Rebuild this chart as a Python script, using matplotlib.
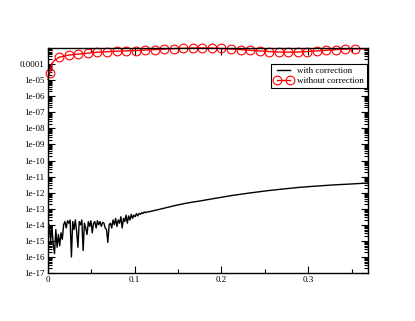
import matplotlib
matplotlib.use("Agg")
import matplotlib.pyplot as plt
import numpy as np
from matplotlib.ticker import FixedLocator, LogLocator, MultipleLocator, NullFormatter

plt.rcParams['font.family'] = ['Liberation Serif', 'DejaVu Serif']

# "with correction" : x and log10(y)
corr_x = [0.0000, 0.0015, 0.0030, 0.0045, 0.0060, 0.0075, 0.0090, 0.0105, 0.0120, 0.0135,
          0.0150, 0.0165, 0.0180, 0.0195, 0.0210, 0.0225, 0.0240, 0.0255, 0.0270, 0.0285,
          0.0300, 0.0315, 0.0330, 0.0345, 0.0360, 0.0375, 0.0390, 0.0405, 0.0420, 0.0435,
          0.0450, 0.0465, 0.0480, 0.0495, 0.0510, 0.0525, 0.0540, 0.0555, 0.0570, 0.0585,
          0.0600, 0.0615, 0.0630, 0.0645, 0.0660, 0.0675, 0.0690, 0.0705, 0.0720, 0.0735,
          0.0750, 0.0765, 0.0780, 0.0795, 0.0810, 0.0825, 0.0840, 0.0855, 0.0870, 0.0885,
          0.0900, 0.0915, 0.0930, 0.0945, 0.0960, 0.0975, 0.0990, 0.1005, 0.1020, 0.1035,
          0.1050, 0.1065, 0.1080, 0.1095, 0.1110, 0.1125, 0.1140, 0.1155,
          0.118, 0.130, 0.145, 0.160, 0.175, 0.190, 0.213, 0.230, 0.253, 0.270,
          0.290, 0.310, 0.329, 0.350, 0.369]
corr_log = [-13.9, -14.0, -15.0, -14.1, -15.2, -15.8, -14.3, -15.4, -14.6, -15.3,
            -14.5, -14.9, -14.0, -13.8, -14.2, -13.75, -13.9, -13.7, -16.0, -13.8,
            -14.3, -13.7, -14.4, -15.4, -13.8, -14.0, -13.7, -15.6, -13.9, -14.2,
            -14.6, -13.8, -14.1, -13.75, -14.5, -13.9, -13.8, -14.2, -13.75, -14.0,
            -13.8, -14.1, -13.85, -13.9, -14.2, -14.3, -15.1, -14.0, -13.9, -14.2,
            -13.7, -14.0, -13.6, -14.1, -13.7, -13.9, -13.5, -14.2, -13.6, -13.8,
            -13.4, -13.9, -13.45, -13.7, -13.35, -13.6, -13.4, -13.5, -13.3, -13.45,
            -13.3, -13.35, -13.25, -13.3, -13.2, -13.25, -13.2, -13.2,
            -13.17, -13.02, -12.82, -12.65, -12.52, -12.38, -12.17, -12.04, -11.88, -11.78,
            -11.67, -11.59, -11.52, -11.46, -11.40]

# "without correction"
nocorr_x = [0.0, 0.002, 0.0045, 0.008, 0.013, 0.024, 0.035, 0.046, 0.057, 0.068, 0.079,
            0.090, 0.101, 0.112, 0.123, 0.134, 0.145, 0.156, 0.167, 0.178, 0.189,
            0.200, 0.211, 0.222, 0.233, 0.244, 0.255, 0.266, 0.277, 0.288, 0.299,
            0.310, 0.321, 0.332, 0.343, 0.354, 0.369]
nocorr_log = [-4.95, -4.56, -3.95, -3.75, -3.57, -3.44, -3.38, -3.32, -3.26, -3.23, -3.20,
              -3.18, -3.16, -3.13, -3.10, -3.07, -3.04, -3.02, -3.00, -3.00, -3.01,
              -3.03, -3.06, -3.10, -3.14, -3.18, -3.22, -3.25, -3.26, -3.25, -3.22,
              -3.18, -3.14, -3.10, -3.07, -3.05, -3.05]
marker_idx = [1] + list(range(4, 36))

ytick_vals = [1e-4, 1e-5, 1e-6, 1e-7, 1e-8, 1e-9, 1e-10, 1e-11, 1e-12, 1e-13,
              1e-14, 1e-15, 1e-16, 1e-17]
ytick_labels = ['0.0001', '1e-05', '1e-06', '1e-07', '1e-08', '1e-09', '1e-10', '1e-11',
                '1e-12', '1e-13', '1e-14', '1e-15', '1e-16', '1e-17']
xtick_vals = [0, 0.1, 0.2, 0.3]
xtick_labels = ['0', '0.1', '0.2', '0.3']

fig = plt.figure(figsize=(4.15, 3.21), dpi=100)
ax = fig.add_axes([48 / 415, 48 / 321, 320 / 415, 225 / 321])

ax.plot(corr_x, 10.0 ** np.array(corr_log), color='black', lw=1.0, label='with correction')
ax.plot(nocorr_x, 10.0 ** np.array(nocorr_log), color='red', lw=1.0, marker='o',
        markevery=marker_idx, markersize=6.3, markerfacecolor='none', markeredgecolor='red',
        markeredgewidth=0.8, clip_on=False, label='without correction')

ax.set_yscale('log')
ax.set_xlim(0, 0.369)
ax.set_ylim(1e-17, 1e-3)

ax.yaxis.set_major_locator(FixedLocator(ytick_vals))
ax.set_yticklabels(ytick_labels)
ax.yaxis.set_minor_locator(LogLocator(base=10, subs=np.arange(2, 10), numticks=30))
ax.yaxis.set_minor_formatter(NullFormatter())
ax.set_xticks(xtick_vals)
ax.set_xticklabels(xtick_labels)
ax.xaxis.set_minor_locator(MultipleLocator(0.05))

ax.tick_params(which='both', direction='in', top=True, right=True, labelsize=6.5, width=0.8)
ax.tick_params(which='major', length=5, pad=2.5)
ax.tick_params(which='minor', length=3)
for s in ax.spines.values():
    s.set_linewidth(1.0)

leg = ax.legend(loc='upper right', bbox_to_anchor=(0.997, 0.929), borderaxespad=0,
                fancybox=False, edgecolor='black', framealpha=1, fontsize=6.5,
                handlelength=2.0, numpoints=2, borderpad=0.35, labelspacing=0.15,
                handletextpad=0.5)
leg.get_frame().set_linewidth(0.8)

fig.savefig('out.png', dpi=100)
